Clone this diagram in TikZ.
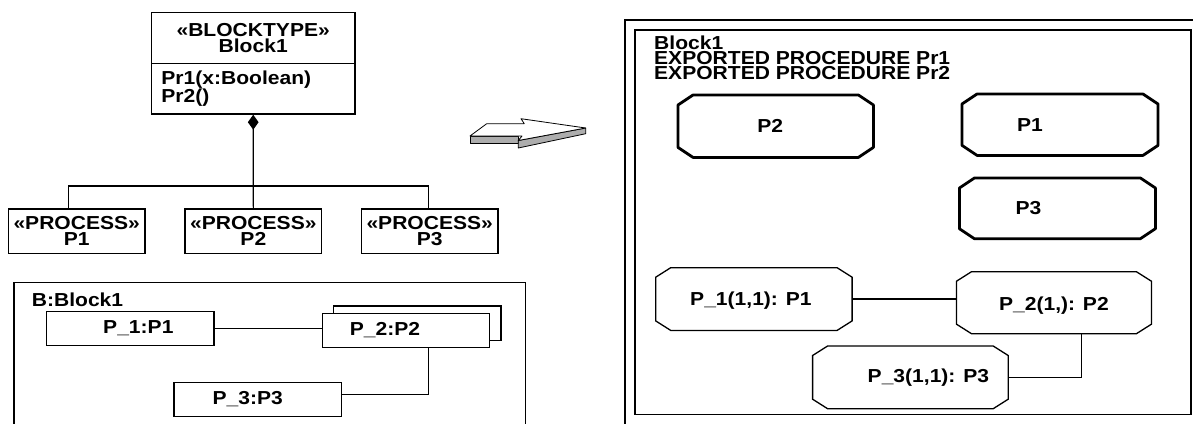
\documentclass[tikz,border=0pt]{standalone}
\usepackage{fontspec}
\setmainfont{Liberation Sans}[FakeStretch=1.12]
\usetikzlibrary{arrows.meta}
\newcommand\octo[4]{%
  \draw[#1] ([xshift=#3]#2.north west) -- ([xshift=-#3]#2.north east) -- ([yshift=-#4]#2.north east) -- ([yshift=#4]#2.south east) -- ([xshift=-#3]#2.south east) -- ([xshift=#3]#2.south west) -- ([yshift=#4]#2.south west) -- ([yshift=-#4]#2.north west) -- cycle;}
\begin{document}
\begin{tikzpicture}[x=1bp,y=-1bp,
  every node/.style={font=\fontsize{18.8bp}{16bp}\selectfont\bfseries, inner sep=0pt},
  box/.style={draw, line width=1.4bp, fill=white, anchor=north west},
  octbox/.style={anchor=north west},
  conn/.style={line width=1.2bp},
  thickoct/.style={line width=2.8bp, line join=round},
  thinoct/.style={line width=1.3bp},
  frame/.style={line width=1.3bp},
]
\useasboundingbox (0,0) rectangle (1193,423);

% ---------- class diagram ----------
\node[box, minimum width=203.6bp, minimum height=51bp, align=center] (clsname) at (150.7,11.7) {«BLOCKTYPE»\\Block1};
\node[box, minimum width=203.6bp, minimum height=50.6bp, text width=183.6bp, align=left] (clsops) at (150.7,62.7) {Pr1(x:Boolean)\\Pr2()};

\node[box, minimum width=136.6bp, minimum height=44.4bp, align=center] (pa) at (7.7,208.3) {«PROCESS»\\P1};
\node[box, minimum width=136.7bp, minimum height=44.4bp, align=center] (pb) at (184.3,208.3) {«PROCESS»\\P2};
\node[box, minimum width=136.6bp, minimum height=44.4bp, align=center] (pc) at (360.7,208.3) {«PROCESS»\\P3};

\coordinate (bus) at (252.5,186);
\draw[conn, {Diamond[length=15bp,width=10.7bp]}-] (clsops.south) -- (pb.north);
\draw[conn] ([xshift=-8bp]pa.north) |- (bus) -| ([xshift=-1.3bp]pc.north);

% ---------- B:Block1 ----------
\draw[frame] (14,426) -- (14,282.7) -- (525.7,282.7) -- (525.7,426);
\node[anchor=base west] (bname) at (31.7,306.7) {B:Block1};
\node[box, minimum width=167.3bp, minimum height=34.3bp] (q1) at (46,310.7) {\hspace*{16bp}P\_1:P1};
\draw[line width=1.4bp, fill=white] (333.3,306) rectangle (501,340.7);
\node[box, minimum width=167.3bp, minimum height=34.5bp] (q2) at (321.7,312.5) {P\_2:P2\hspace*{42bp}};
\node[box, minimum width=167.4bp, minimum height=34.3bp] (q3) at (173.3,381.7) {P\_3:P3\hspace*{20bp}};
\draw[conn] (q1.east) -- (q1.east -| q2.west);
\draw[conn] ([xshift=22.3bp]q2.south) |- ([yshift=5bp]q3.east);

% ---------- 3D arrow ----------
\filldraw[fill=black!32, line width=0.8bp, line join=round] (470,136) -- (518.3,136) -- (518.3,143.7) -- (470,143.7) -- cycle;
\filldraw[fill=black!32, line width=0.8bp, line join=round] (518.3,140.5) -- (585.7,128) -- (585.7,133.7) -- (518.3,148) -- cycle;
\filldraw[fill=white, line width=0.8bp, line join=round] (470,136) -- (486.7,123.7) -- (524.3,123.7) -- (521,118.7) -- (585.7,128) -- (518.3,140.5) -- (522,136) -- cycle;

% ---------- SDL block ----------
\draw[line width=1.1bp] (625,426) -- (625,20) -- (1196,20);
\draw[line width=1.9bp] (635,30) rectangle (1191,414.5);
\node[anchor=north west, align=left] (hdr) at (654,36) {Block1\\[-1bp]EXPORTED PROCEDURE Pr1\\[-1bp]EXPORTED PROCEDURE Pr2};

\node[octbox, minimum width=195bp, minimum height=62bp] (o2) at (678,95) {};
\node[octbox, minimum width=195.6bp, minimum height=61bp] (o1) at (962,94) {};
\node[octbox, minimum width=195.6bp, minimum height=60.3bp] (o3) at (959.4,178) {};
\octo{thickoct}{o2}{15bp}{10bp}
\octo{thickoct}{o1}{15bp}{10bp}
\octo{thickoct}{o3}{15bp}{10bp}
\node (o2t) at ([xshift=-5.5bp]o2.center) {P2};
\node (o1t) at ([xshift=-30bp]o1.center) {P1};
\node (o3t) at ([xshift=-29bp]o3.center) {P3};

\node[octbox, minimum width=196bp, minimum height=62.3bp] (s1) at (655.7,267.7) {};
\node[octbox, minimum width=194.5bp, minimum height=61.6bp] (s2) at (956.5,271.7) {};
\node[octbox, minimum width=195.2bp, minimum height=62.3bp] (s3) at (812.6,346) {};
\octo{thinoct}{s1}{15bp}{9.5bp}
\octo{thinoct}{s2}{15bp}{9.5bp}
\octo{thinoct}{s3}{15bp}{9.5bp}
\node (s1t) at ([xshift=-3bp,yshift=-2bp]s1.center) {P\_1(1,1): P1};
\node (s2t) at ([yshift=-3bp]s2.center) {P\_2(1,): P2};
\node (s3t) at ([xshift=18bp]s3.center) {P\_3(1,1): P3};
\draw[conn] (s1.east) -- (s1.east -| s2.west);
\draw[conn] ([xshift=27.6bp]s2.south) |- (s3.east);
\end{tikzpicture}
\end{document}
